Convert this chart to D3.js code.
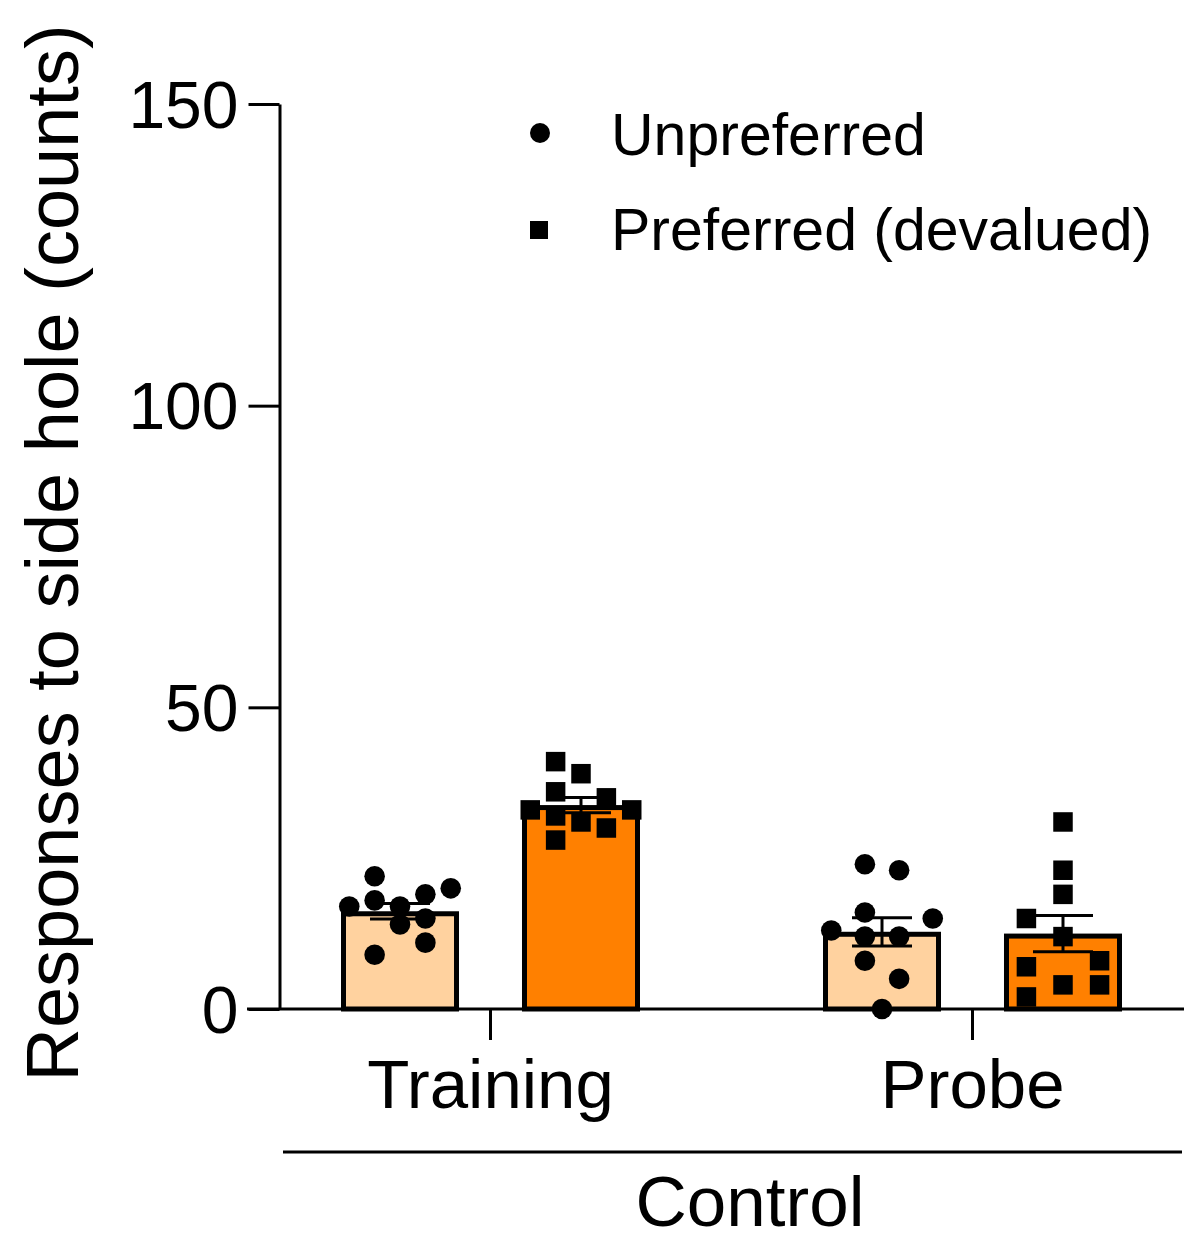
<!DOCTYPE html>
<html>
<head>
<meta charset="utf-8">
<script src="https://cdn.jsdelivr.net/npm/d3@7"></script>
<style>
  html, body { margin: 0; padding: 0; background: #fff; }
  svg { display: block; font-family: "Liberation Sans", Arial, Helvetica, sans-serif; }
</style>
</head>
<body>
<svg id="chart" width="1184" height="1241"></svg>
<script>
// ---------------- data ----------------
const groups = ["Training", "Probe"];
const series = ["Unpreferred", "Preferred (devalued)"];
const yTicks = [0, 50, 100, 150];
const yLabel = "Responses to side hole (counts)";
const groupLabel = "Control";

const trainingUnpreferred = [22, 17, 18, 17, 19, 20, 14, 15, 11, 9];
const trainingPreferred   = [41, 39, 36, 35, 33, 33, 32, 31, 30, 28];
const probeUnpreferred    = [24, 23, 16, 15, 13, 12, 12, 8, 5, 0];
const probePreferred      = [31, 23, 19, 15, 12, 8, 7, 4, 4, 2];

// scatter spread of points inside each bar (fraction of half bar width)
const jitterTrainingUnpreferred = [-0.43, -0.86, -0.43, 0, 0.43, 0.86, 0, 0.43, 0.43, -0.43];
const jitterTrainingPreferred   = [-0.43, 0, -0.43, 0.43, -0.86, 0.86, -0.43, 0, 0.43, -0.43];
const jitterProbeUnpreferred    = [-0.29, 0.29, -0.29, 0.86, -0.86, -0.29, 0.29, -0.29, 0.29, 0];
const jitterProbePreferred      = [0, 0, 0, -0.62, 0, 0.62, -0.62, 0, 0.62, -0.62];

const seriesColors = ["#FFD29F", "#FF8000"];

// ---------------- build ----------------
const cells = [
  { group: "Training", series: series[0], values: trainingUnpreferred, jitter: jitterTrainingUnpreferred },
  { group: "Training", series: series[1], values: trainingPreferred,   jitter: jitterTrainingPreferred },
  { group: "Probe",    series: series[0], values: probeUnpreferred,    jitter: jitterProbeUnpreferred },
  { group: "Probe",    series: series[1], values: probePreferred,      jitter: jitterProbePreferred }
];
cells.forEach(c => {
  c.mean = d3.mean(c.values);
  c.sem = d3.deviation(c.values) / Math.sqrt(c.values.length);
});

const W = 1184, H = 1241;
const svg = d3.select("#chart");

const y = d3.scaleLinear().domain([0, 150]).range([1009, 104]);
const x = d3.scalePoint().domain(groups).range([490, 972]);
const xs = d3.scaleBand().domain(series).range([-149, 150]).paddingInner(0.348).paddingOuter(0);
const bw = xs.bandwidth();
const sw = 5;

const color = d3.scaleOrdinal().domain(series).range(seriesColors);

// bars (stroke drawn inside the bar outline)
svg.append("g").selectAll("rect").data(cells).join("rect")
  .attr("x", d => x(d.group) + xs(d.series) + sw / 2)
  .attr("width", bw - sw)
  .attr("y", d => y(d.mean) + sw / 2)
  .attr("height", d => y(0) - y(d.mean) - sw / 2)
  .attr("fill", d => color(d.series))
  .attr("stroke", "#000")
  .attr("stroke-width", sw);

// error bars
const eb = svg.append("g").attr("stroke", "#000").attr("stroke-width", 3).attr("fill", "none");
cells.forEach(d => {
  const cx = x(d.group) + xs(d.series) + bw / 2;
  const y1 = y(d.mean + d.sem), y2 = y(d.mean - d.sem);
  eb.append("line").attr("x1", cx).attr("x2", cx).attr("y1", y1).attr("y2", y2);
  eb.append("line").attr("x1", cx - 30).attr("x2", cx + 30).attr("y1", y1).attr("y2", y1);
  eb.append("line").attr("x1", cx - 30).attr("x2", cx + 30).attr("y1", y2).attr("y2", y2);
});

// points
const pts = svg.append("g");
cells.forEach(d => {
  const cx = x(d.group) + xs(d.series) + bw / 2;
  const pdata = d.values.map((v, i) => ({ v, j: d.jitter[i] }));
  if (d.series === series[0]) {
    pts.append("g").selectAll("circle").data(pdata).join("circle")
      .attr("cx", p => cx + p.j * bw / 2)
      .attr("cy", p => y(p.v))
      .attr("r", 10.3)
      .attr("fill", "#000");
  } else {
    const s = 19.5;
    pts.append("g").selectAll("rect").data(pdata).join("rect")
      .attr("x", p => cx + p.j * bw / 2 - s / 2)
      .attr("y", p => y(p.v) - s / 2)
      .attr("width", s).attr("height", s)
      .attr("fill", "#000");
  }
});

// y axis
const yAxis = svg.append("g")
  .attr("transform", "translate(279.5,0)")
  .call(d3.axisLeft(y).tickValues(yTicks).tickSize(31).tickSizeOuter(0).tickPadding(10));
yAxis.select(".domain").attr("stroke-width", 3);
yAxis.selectAll(".tick line").attr("stroke-width", 3);
yAxis.selectAll(".tick text")
  .attr("font-size", 66)
  .attr("font-family", "Liberation Sans, Arial, sans-serif")
  .attr("fill", "#000")
  .attr("dy", "0.35em");

// x axis
svg.append("line")
  .attr("x1", 247).attr("x2", W)
  .attr("y1", y(0)).attr("y2", y(0))
  .attr("stroke", "#000").attr("stroke-width", 3);
const xAxis = svg.append("g")
  .attr("transform", `translate(0,${y(0)})`)
  .call(d3.axisBottom(x).tickSize(31).tickSizeOuter(0).tickPadding(22));
xAxis.select(".domain").remove();
xAxis.selectAll(".tick line").attr("stroke-width", 3);
xAxis.selectAll(".tick text")
  .attr("font-size", 69)
  .attr("font-family", "Liberation Sans, Arial, sans-serif")
  .attr("fill", "#000")
  .attr("dy", null)
  .attr("y", 99)
  .attr("dominant-baseline", "alphabetic");

// group bracket
svg.append("line")
  .attr("x1", 283).attr("x2", 1182)
  .attr("y1", 1152).attr("y2", 1152)
  .attr("stroke", "#000").attr("stroke-width", 3);
svg.append("text")
  .attr("x", 750).attr("y", 1226)
  .attr("text-anchor", "middle")
  .attr("font-size", 71)
  .attr("fill", "#000")
  .text(groupLabel);

// y label
svg.append("text")
  .attr("transform", "translate(78,553) rotate(-90)")
  .attr("text-anchor", "middle")
  .attr("font-size", 74)
  .attr("fill", "#000")
  .text(yLabel);

// legend
const legend = svg.append("g");
legend.append("circle").attr("cx", 540).attr("cy", 133).attr("r", 10).attr("fill", "#000");
legend.append("rect").attr("x", 530).attr("y", 221).attr("width", 18).attr("height", 18).attr("fill", "#000");
legend.selectAll("text").data(series).join("text")
  .attr("x", 611)
  .attr("y", (d, i) => 155 + i * 95)
  .attr("font-size", 59)
  .attr("fill", "#000")
  .text(d => d);
</script>
</body>
</html>
